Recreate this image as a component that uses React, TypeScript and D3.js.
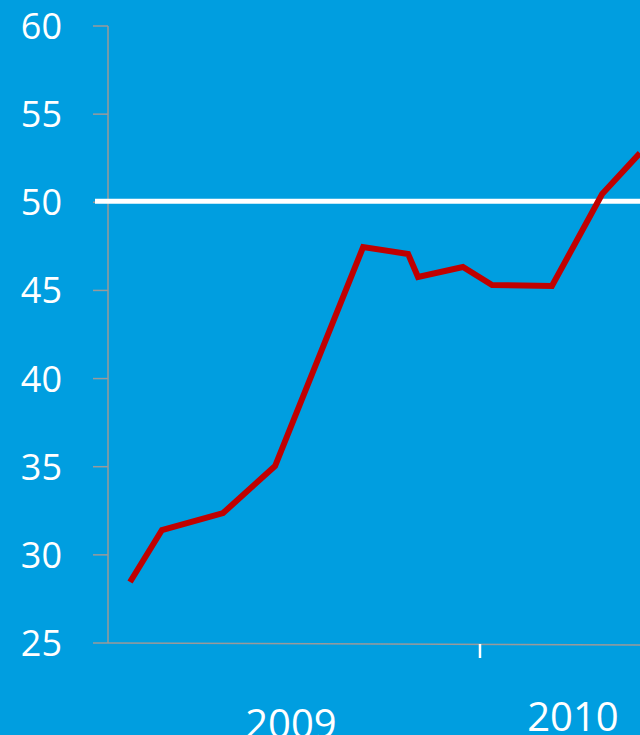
import { useEffect, useRef } from "react";
import * as d3 from "d3";

// months since Jan 2009
const months = [0.71, 1.74, 3.71, 5.39, 8.23, 9.68, 10.0, 11.45, 12.39, 14.32, 15.94, 17.16];
const values = [28.46, 31.41, 32.37, 35.04, 47.46, 47.07, 45.76, 46.33, 45.31, 45.25, 50.47, 52.79];
const yTicks = [25, 30, 35, 40, 45, 50, 55, 60];
const threshold = 50;
const yearLabels = ["2009", "2010"];
const yearLabelMonths = [5.9, 15.0];
const yearTickMonths = [12];

export default function App() {
  const ref = useRef<SVGSVGElement>(null);

  useEffect(() => {
    document.body.style.margin = "0";
    const width = 640;
    const height = 735;
    const svg = d3.select(ref.current).attr("width", width).attr("height", height);
    svg.selectAll("*").remove();

    svg.append("rect").attr("width", width).attr("height", height).attr("fill", "#009ee0");

    const x = d3.scaleLinear().domain([0, 12]).range([108, 480]);
    const y = d3.scaleLinear().domain([25, 60]).range([643, 26]);

    // y axis
    svg
      .append("line")
      .attr("x1", x(0))
      .attr("x2", x(0))
      .attr("y1", y(60))
      .attr("y2", y(25))
      .attr("stroke", "#9a9a9a")
      .attr("stroke-width", 1.5);

    svg
      .selectAll(".ytick")
      .data(yTicks)
      .enter()
      .append("line")
      .attr("x1", x(0) - 15)
      .attr("x2", x(0))
      .attr("y1", (d) => y(d))
      .attr("y2", (d) => y(d))
      .attr("stroke", "#9a9a9a")
      .attr("stroke-width", 1.5);

    svg
      .selectAll(".ylabel")
      .data(yTicks)
      .enter()
      .append("text")
      .attr("x", 62)
      .attr("y", (d) => y(d))
      .attr("dy", "0.36em")
      .attr("text-anchor", "end")
      .attr("fill", "white")
      .style("font-family", "'Open Sans', sans-serif")
      .style("font-size", "36px")
      .text((d) => d);

    // x axis
    svg
      .append("line")
      .attr("x1", x(0))
      .attr("x2", width)
      .attr("y1", y(25))
      .attr("y2", y(25) + 2)
      .attr("stroke", "#9a9a9a")
      .attr("stroke-width", 1.5);

    svg
      .selectAll(".xtick")
      .data(yearTickMonths)
      .enter()
      .append("line")
      .attr("x1", (d) => x(d))
      .attr("x2", (d) => x(d))
      .attr("y1", y(25) + 1)
      .attr("y2", y(25) + 15)
      .attr("stroke", "white")
      .attr("stroke-width", 2.5);

    svg
      .selectAll(".xlabel")
      .data(yearLabels)
      .enter()
      .append("text")
      .attr("x", (_, i) => x(yearLabelMonths[i]))
      .attr("y", (_, i) => (i === 0 ? 738 : 731))
      .attr("text-anchor", "middle")
      .attr("fill", "white")
      .style("font-family", "'Open Sans', sans-serif")
      .style("font-size", "40px")
      .text((d) => d);

    // threshold line
    svg
      .append("line")
      .attr("x1", 95)
      .attr("x2", width)
      .attr("y1", y(threshold) - 1)
      .attr("y2", y(threshold) - 1)
      .attr("stroke", "white")
      .attr("stroke-width", 5);

    const line = d3
      .line<number>()
      .x((_, i) => x(months[i]))
      .y((d) => y(d));

    svg
      .append("path")
      .datum(values)
      .attr("d", line)
      .attr("fill", "none")
      .attr("stroke", "#c00000")
      .attr("stroke-width", 6)
      .attr("stroke-linejoin", "miter");
  }, []);

  return <svg ref={ref} style={{ display: "block" }}></svg>;
}
